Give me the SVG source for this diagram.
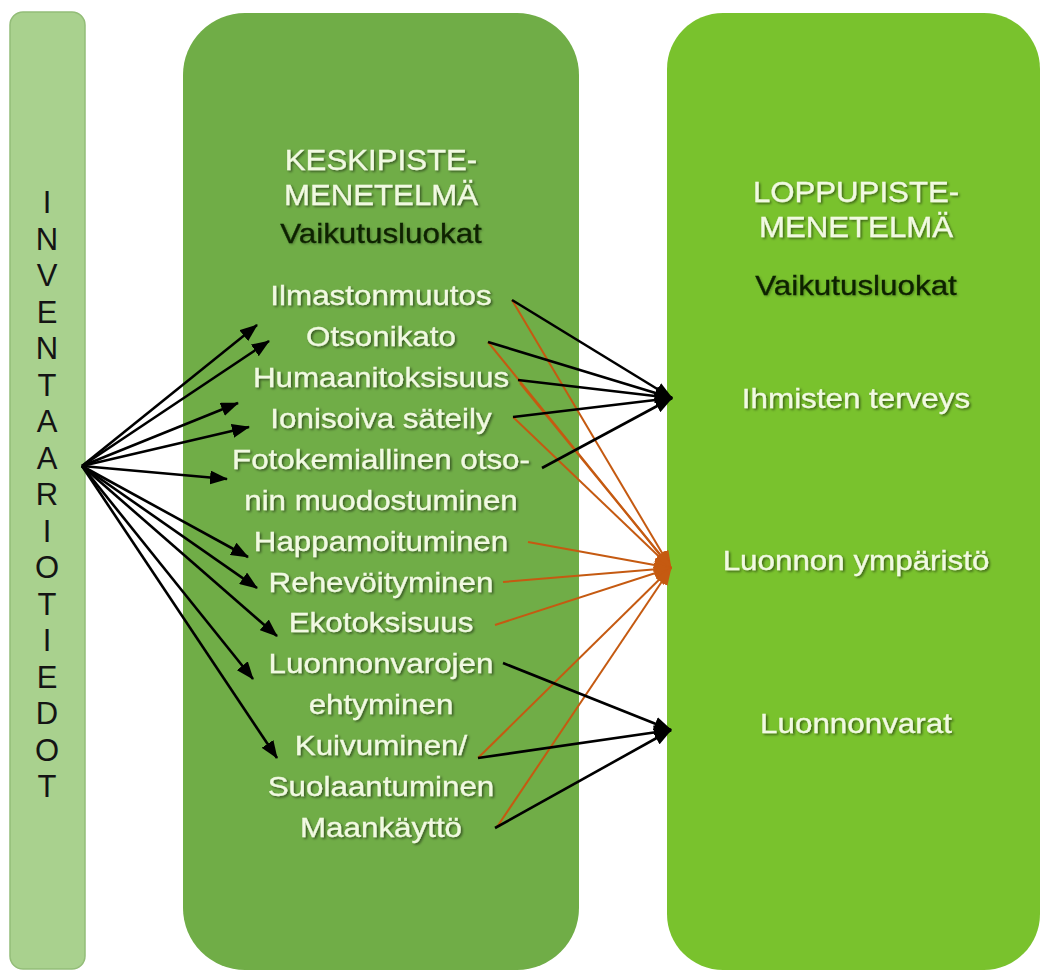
<svg xmlns="http://www.w3.org/2000/svg" width="1041" height="971" viewBox="0 0 1041 971">
  <defs>
    <style>
      .lbl { font-family: "Liberation Sans", Arial, sans-serif; text-anchor: middle; }
      .light { fill: #f1f9e2; filter: url(#shadow); stroke: #f1f9e2; stroke-width: 0.3; }
      .dark { fill: #0c2106; filter: url(#shadowSoft); stroke: #0c2106; stroke-width: 0.3; }
      .item { font-size: 28px; }
      .head { font-size: 30px; }
      .vert { font-size: 31px; fill: #141414; }
      .blk { stroke: #000; stroke-width: 2.6; fill: none; marker-end: url(#headBlack); }
      .org { stroke: #c55a11; stroke-width: 2; fill: none; marker-end: url(#headOrange); }
    </style>
    <filter id="shadow" x="-10%" y="-30%" width="120%" height="160%">
      <feDropShadow dx="1.5" dy="1.5" stdDeviation="1" flood-color="#000" flood-opacity="0.5"/>
    </filter>
    <filter id="shadowSoft" x="-10%" y="-30%" width="120%" height="160%">
      <feDropShadow dx="1" dy="1" stdDeviation="1" flood-color="#000" flood-opacity="0.3"/>
    </filter>
    <marker id="headBlack" markerUnits="userSpaceOnUse" viewBox="0 0 18 14" markerWidth="18" markerHeight="14" refX="17" refY="7" orient="auto">
      <path d="M0,0 L18,7 L0,14 z" fill="#000"/>
    </marker>
    <marker id="headOrange" markerUnits="userSpaceOnUse" viewBox="0 0 18 14" markerWidth="18" markerHeight="14" refX="17" refY="7" orient="auto">
      <path d="M0,0 L18,7 L0,14 z" fill="#c55a11"/>
    </marker>
  </defs>

  <rect width="1041" height="971" fill="#ffffff"/>

  <!-- inventory column -->
  <g id="inventaario">
    <rect x="10" y="12" width="75" height="957" rx="13" fill="#a9d18e" stroke="#93bd78" stroke-width="1.5"/>
    <g class="lbl vert">
      <text x="47" y="213">I</text>
      <text x="47" y="249.5">N</text>
      <text x="47" y="286">V</text>
      <text x="47" y="322.5">E</text>
      <text x="47" y="359">N</text>
      <text x="47" y="395.5">T</text>
      <text x="47" y="432">A</text>
      <text x="47" y="468.5">A</text>
      <text x="47" y="505">R</text>
      <text x="47" y="541.5">I</text>
      <text x="47" y="578">O</text>
      <text x="47" y="614.5">T</text>
      <text x="47" y="651">I</text>
      <text x="47" y="687.5">E</text>
      <text x="47" y="724">D</text>
      <text x="47" y="760.5">O</text>
      <text x="47" y="797">T</text>
    </g>
  </g>

  <!-- midpoint method -->
  <g id="keskipiste">
    <rect x="183" y="13" width="396" height="957" rx="62" fill="#70ad47"/>
    <g transform="translate(381,0) scale(1.04,1)" class="lbl head light">
      <text x="0" y="170">KESKIPISTE-</text>
      <text x="0" y="205">MENETELMÄ</text>
    </g>
    <g transform="translate(381,0) scale(1.12,1)" class="lbl item">
      <text x="0" y="243" class="dark">Vaikutusluokat</text>
      <g class="light">
        <text x="0" y="305">Ilmastonmuutos</text>
        <text x="0" y="346">Otsonikato</text>
        <text x="0" y="387">Humaanitoksisuus</text>
        <text x="0" y="428">Ionisoiva säteily</text>
        <text x="0" y="469">Fotokemiallinen otso-</text>
        <text x="0" y="510">nin muodostuminen</text>
        <text x="0" y="551">Happamoituminen</text>
        <text x="0" y="592">Rehevöityminen</text>
        <text x="0" y="632">Ekotoksisuus</text>
        <text x="0" y="673">Luonnonvarojen</text>
        <text x="0" y="714">ehtyminen</text>
        <text x="0" y="755">Kuivuminen/</text>
        <text x="0" y="796">Suolaantuminen</text>
        <text x="0" y="837">Maankäyttö</text>
      </g>
    </g>
  </g>

  <!-- endpoint method -->
  <g id="loppupiste">
    <rect x="667" y="13" width="373" height="957" rx="56" fill="#79c22d"/>
    <g transform="translate(856,0) scale(1.04,1)" class="lbl head light">
      <text x="0" y="202">LOPPUPISTE-</text>
      <text x="0" y="237">MENETELMÄ</text>
    </g>
    <g transform="translate(856,0) scale(1.12,1)" class="lbl item">
      <text x="0" y="295" class="dark">Vaikutusluokat</text>
      <g class="light">
        <text x="0" y="408">Ihmisten terveys</text>
        <text x="0" y="570">Luonnon ympäristö</text>
        <text x="0" y="733">Luonnonvarat</text>
      </g>
    </g>
  </g>

  <!-- connectors -->
  <g id="connectors">
    <!-- inventory data to impact categories -->
    <line class="blk" x1="82" y1="466" x2="257" y2="325"/>
    <line class="blk" x1="82" y1="466" x2="269" y2="341"/>
    <line class="blk" x1="82" y1="466" x2="238" y2="403"/>
    <line class="blk" x1="82" y1="466" x2="249" y2="427"/>
    <line class="blk" x1="82" y1="466" x2="227" y2="479"/>
    <line class="blk" x1="82" y1="466" x2="248" y2="557"/>
    <line class="blk" x1="82" y1="466" x2="257" y2="588"/>
    <line class="blk" x1="82" y1="466" x2="277" y2="636"/>
    <line class="blk" x1="82" y1="466" x2="253" y2="679"/>
    <line class="blk" x1="82" y1="466" x2="277" y2="758"/>

    <!-- to ecosystems (orange) -->
    <line class="org" x1="512" y1="300" x2="671" y2="568"/>
    <line class="org" x1="488" y1="342" x2="671" y2="568"/>
    <line class="org" x1="520" y1="383" x2="671" y2="568"/>
    <line class="org" x1="513" y1="417" x2="671" y2="568"/>
    <line class="org" x1="528" y1="542" x2="671" y2="568"/>
    <line class="org" x1="503" y1="582" x2="671" y2="568"/>
    <line class="org" x1="495" y1="625" x2="671" y2="568"/>
    <line class="org" x1="478" y1="758" x2="671" y2="568"/>
    <line class="org" x1="497" y1="827" x2="671" y2="568"/>

    <!-- to human health -->
    <line class="blk" x1="512" y1="300" x2="672" y2="398"/>
    <line class="blk" x1="488" y1="342" x2="672" y2="398"/>
    <line class="blk" x1="518" y1="380" x2="672" y2="398"/>
    <line class="blk" x1="513" y1="417" x2="672" y2="398"/>
    <line class="blk" x1="542" y1="468" x2="672" y2="398"/>

    <!-- to resources -->
    <line class="blk" x1="503" y1="663" x2="671" y2="730"/>
    <line class="blk" x1="478" y1="758" x2="671" y2="730"/>
    <line class="blk" x1="495" y1="828" x2="671" y2="730"/>
  </g>
</svg>
